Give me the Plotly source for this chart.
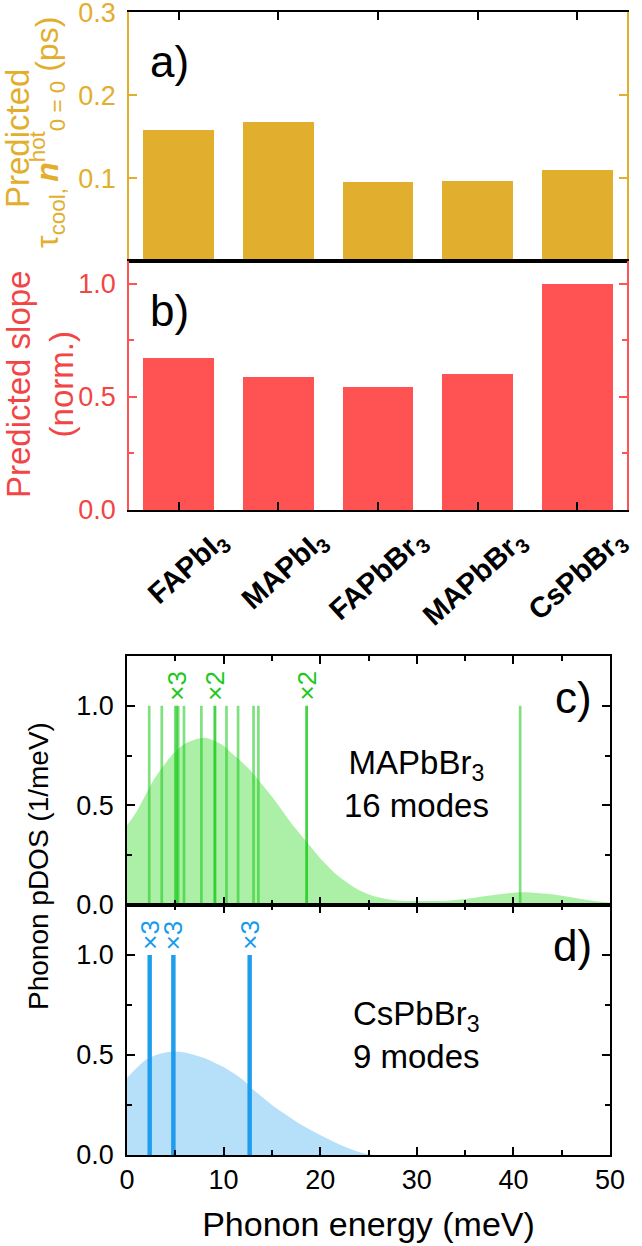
import plotly.graph_objects as go

# ---------------- data ----------------
materials = ["FAPbI3", "MAPbI3", "FAPbBr3", "MAPbBr3", "CsPbBr3"]
material_labels = ["<b>FAPbI<sub>3</sub></b>", "<b>MAPbI<sub>3</sub></b>", "<b>FAPbBr<sub>3</sub></b>",
                   "<b>MAPbBr<sub>3</sub></b>", "<b>CsPbBr<sub>3</sub></b>"]
tau_cool_ps = [0.158, 0.167, 0.095, 0.097, 0.110]
slope_norm = [0.673, 0.589, 0.544, 0.602, 1.000]

energy_c = [0, 1, 2, 3, 4, 5, 6, 7, 8, 9, 10, 11, 12, 13, 14, 15, 16, 17, 18, 19, 20, 21, 22, 23, 24,
            25, 26, 27, 28, 30, 32, 34, 36, 38, 40, 41, 42, 44, 46, 48, 50]
pdos_mapbbr3 = [0.40, 0.47, 0.56, 0.646, 0.713, 0.77, 0.81, 0.83, 0.84, 0.825, 0.80, 0.755, 0.713, 0.663,
                0.604, 0.545, 0.478, 0.41, 0.352, 0.294, 0.235, 0.185, 0.14, 0.106, 0.075,
                0.054, 0.039, 0.029, 0.023, 0.020, 0.020, 0.025, 0.037, 0.050, 0.062, 0.064, 0.062,
                0.054, 0.039, 0.022, 0.012]
modes_mapbbr3 = [2.3, 3.6, 5.0, 5.15, 5.3, 5.9, 7.7, 9.1, 9.1, 10.3, 11.5, 13.1, 13.6, 18.6, 18.6, 40.7]
mult_mapbbr3_x = [5.15, 9.1, 18.6]
mult_mapbbr3_text = ["×3", "×2", "×2"]

energy_d = [0, 1, 2, 3, 4, 5, 6, 7, 8, 9, 10, 11, 12, 13, 14, 15, 16, 17, 18, 19, 20, 21, 22, 23, 24,
            25, 26, 30, 40, 50]
pdos_cspbbr3 = [0.385, 0.435, 0.477, 0.50, 0.513, 0.517, 0.513, 0.50, 0.485, 0.463, 0.44, 0.41, 0.376,
                0.33, 0.29, 0.25, 0.216, 0.184, 0.153, 0.125, 0.10, 0.076, 0.052, 0.032, 0.015,
                0.004, 0.0, 0.0, 0.0, 0.0]
modes_cspbbr3 = [2.35, 2.35, 2.35, 4.8, 4.8, 4.8, 12.7, 12.7, 12.7]
mult_cspbbr3_x = [2.35, 4.8, 12.7]
mult_cspbbr3_text = ["×3", "×3", "×3"]
stick_height = 1.0
mult_label_y = 1.10

# ---------------- styling ----------------
W, H = 642, 1246
FONT = "Liberation Sans, Arial, sans-serif"
GOLD = "#E2AE2D"
RED = "#FF5252"
RED_TXT = "#F24545"
GREEN_FILL = "rgb(172,240,168)"
GREEN_LINE = "rgba(20,200,20,0.55)"
GREEN_TXT = "rgb(30,200,30)"
BLUE_FILL = "rgb(182,224,249)"
BLUE_LINE = "rgba(25,155,235,0.7)"
BLUE_TXT = "rgb(25,155,235)"


def px(x):
    return x / W


def py(y):
    return 1 - y / H


def xd(a, b):
    return [px(a), px(b)]


def yd(top, bot):
    return [py(bot), py(top)]


def sticks(modes, h):
    xs, ys = [], []
    for m in modes:
        xs += [m, m, None]
        ys += [0, h, None]
    return xs, ys


fig = go.Figure()

fig.add_trace(go.Bar(x=list(range(len(materials))), y=tau_cool_ps, width=0.71,
                     marker=dict(color=GOLD, line=dict(width=0)), xaxis="x", yaxis="y",
                     name="tau", showlegend=False))
fig.add_trace(go.Bar(x=list(range(len(materials))), y=slope_norm, width=0.71,
                     marker=dict(color=RED, line=dict(width=0)), xaxis="x2", yaxis="y2",
                     name="slope", showlegend=False))

fig.add_trace(go.Scatter(x=energy_c, y=pdos_mapbbr3, mode="lines", line=dict(width=0, shape="spline"),
                         fill="tozeroy", fillcolor=GREEN_FILL, xaxis="x3", yaxis="y3", showlegend=False))
sx, sy = sticks(modes_mapbbr3, stick_height)
fig.add_trace(go.Scatter(x=sx, y=sy, mode="lines", line=dict(color=GREEN_LINE, width=2.7),
                         xaxis="x3", yaxis="y3", showlegend=False))

fig.add_trace(go.Scatter(x=energy_d, y=pdos_cspbbr3, mode="lines", line=dict(width=0, shape="spline"),
                         fill="tozeroy", fillcolor=BLUE_FILL, xaxis="x4", yaxis="y4", showlegend=False))
sx, sy = sticks(modes_cspbbr3, stick_height)
fig.add_trace(go.Scatter(x=sx, y=sy, mode="lines", line=dict(color=BLUE_LINE, width=4),
                         xaxis="x4", yaxis="y4", showlegend=False))

tickfont = dict(family=FONT, size=27, color="black")
common_x = dict(showline=True, linecolor="black", linewidth=1.5, ticks="inside", ticklen=8,
                tickwidth=1.5, tickcolor="black", showgrid=False, zeroline=False, automargin=False,
                ticklabeloverflow="allow")

fig.update_layout(
    width=W, height=H, margin=dict(l=0, r=0, t=0, b=0),
    paper_bgcolor="white", plot_bgcolor="white", bargap=0, showlegend=False,
    font=dict(family=FONT, color="black"),
    xaxis=dict(common_x, domain=xd(129, 627), anchor="y", range=[-0.5, 4.5], side="top",
               tickvals=list(range(len(materials))), showticklabels=False, mirror=True),
    yaxis=dict(domain=yd(12, 261), anchor="x", range=[0, 0.3002], tickvals=[0.1, 0.2, 0.3],
               ticktext=["0.1", "0.2", "0.3"], showline=True, linecolor=GOLD, linewidth=1.5,
               ticks="inside", ticklen=8, tickwidth=1.5, tickcolor=GOLD, mirror="ticks",
               tickfont=dict(family=FONT, size=27, color=GOLD), showgrid=False, zeroline=False,
               ticklabelstandoff=6, automargin=False, ticklabeloverflow="allow"),
    xaxis2=dict(common_x, domain=xd(129, 627), anchor="y2", range=[-0.5, 4.5],
                tickvals=list(range(len(materials))), ticktext=material_labels, tickangle=-42,
                tickfont=dict(family=FONT, size=29, color="black"), mirror=True,
                ticklabelshift=40, ticklabelstandoff=0),
    yaxis2=dict(domain=yd(261, 510), anchor="x2", range=[0, 1.1], tickvals=[0, 0.5, 1.0],
                ticktext=["0.0", "0.5", "1.0"], showline=True, linecolor=RED, linewidth=1.5,
                ticks="inside", ticklen=8, tickwidth=1.5, tickcolor=RED, mirror="ticks",
                minor=dict(tickvals=[0.25, 0.75], ticks="inside", ticklen=5, tickwidth=1.5, tickcolor=RED),
                tickfont=dict(family=FONT, size=27, color=RED_TXT), showgrid=False, zeroline=False,
                ticklabelstandoff=6, automargin=False, ticklabeloverflow="allow"),
    xaxis3=dict(common_x, domain=xd(127, 610), anchor="y3", range=[0, 50], tick0=0, dtick=10,
                minor=dict(dtick=5, ticks="inside", ticklen=5, tickwidth=1.5, tickcolor="black"),
                showticklabels=False, mirror="ticks"),
    yaxis3=dict(common_x, domain=yd(656, 905), anchor="x3", range=[0, 1.25], tickvals=[0, 0.5, 1.0],
                ticktext=["0.0", "0.5", "1.0"], mirror="ticks", tickfont=tickfont,
                minor=dict(tickvals=[0.25, 0.75], ticks="inside", ticklen=5, tickwidth=1.5, tickcolor="black"),
                ticklabelstandoff=6),
    xaxis4=dict(common_x, domain=xd(127, 610), anchor="y4", range=[0, 50], tick0=0, dtick=10,
                minor=dict(dtick=5, ticks="inside", ticklen=5, tickwidth=1.5, tickcolor="black"),
                tickfont=tickfont, mirror="ticks",
                title=dict(text="Phonon energy (meV)", font=dict(family=FONT, size=34), standoff=18)),
    yaxis4=dict(common_x, domain=yd(905, 1155), anchor="x4", range=[0, 1.25], tickvals=[0, 0.5, 1.0],
                ticktext=["0.0", "0.5", "1.0"], mirror="ticks", tickfont=tickfont,
                minor=dict(tickvals=[0.25, 0.75], ticks="inside", ticklen=5, tickwidth=1.5, tickcolor="black"),
                ticklabelstandoff=6),
)

ann = []


def paper_text(text, x, y, size, color="black", xanchor="center", yanchor="middle", angle=0):
    return dict(text=text, x=px(x), y=py(y), xref="paper", yref="paper", xanchor=xanchor,
                yanchor=yanchor, textangle=angle, showarrow=False,
                font=dict(family=FONT, size=size, color=color))


# panel labels
ann.append(paper_text("a)", 148, 62, 44, xanchor="left"))
ann.append(paper_text("b)", 148, 310, 44, xanchor="left"))
ann.append(paper_text("c)", 594, 697, 44, xanchor="right"))
ann.append(paper_text("d)", 594, 945, 44, xanchor="right"))
# y titles
ann.append(paper_text("Predicted", 17, 139, 33, GOLD, angle=-90))
ann.append(paper_text("τ<sub>cool, </sub><b><i>n</i></b><sup>hot</sup><sub>0</sub><sub> = 0</sub> (ps)",
                      47, 133, 32, GOLD, angle=-90))
ann.append(paper_text("Predicted slope<br>(norm.)", 40, 385, 33, RED_TXT, angle=-90))
ann.append(paper_text("Phonon pDOS (1/meV)", 38, 866, 28, "black", angle=-90))
# inner labels
ann.append(dict(text="MAPbBr<sub>3</sub><br>16 modes", x=30, y=0.606, xref="x3", yref="y3",
                showarrow=False, align="center", font=dict(family=FONT, size=33, color="black")))
ann.append(dict(text="CsPbBr<sub>3</sub><br>9 modes", x=30, y=0.60, xref="x4", yref="y4",
                showarrow=False, align="center", font=dict(family=FONT, size=33, color="black")))
for xv, tv in zip(mult_mapbbr3_x, mult_mapbbr3_text):
    ann.append(dict(text=tv, x=xv, y=mult_label_y, xref="x3", yref="y3", textangle=-90, showarrow=False,
                    xanchor="center", yanchor="middle", font=dict(family=FONT, size=26, color=GREEN_TXT)))
for xv, tv in zip(mult_cspbbr3_x, mult_cspbbr3_text):
    ann.append(dict(text=tv, x=xv, y=mult_label_y, xref="x4", yref="y4", textangle=-90, showarrow=False,
                    xanchor="center", yanchor="middle", font=dict(family=FONT, size=26, color=BLUE_TXT)))

fig.update_layout(annotations=ann)
fig.write_html("out.html", config={"displayModeBar": False},
               post_script="document.body.style.margin='0px';document.body.style.padding='0px';")
